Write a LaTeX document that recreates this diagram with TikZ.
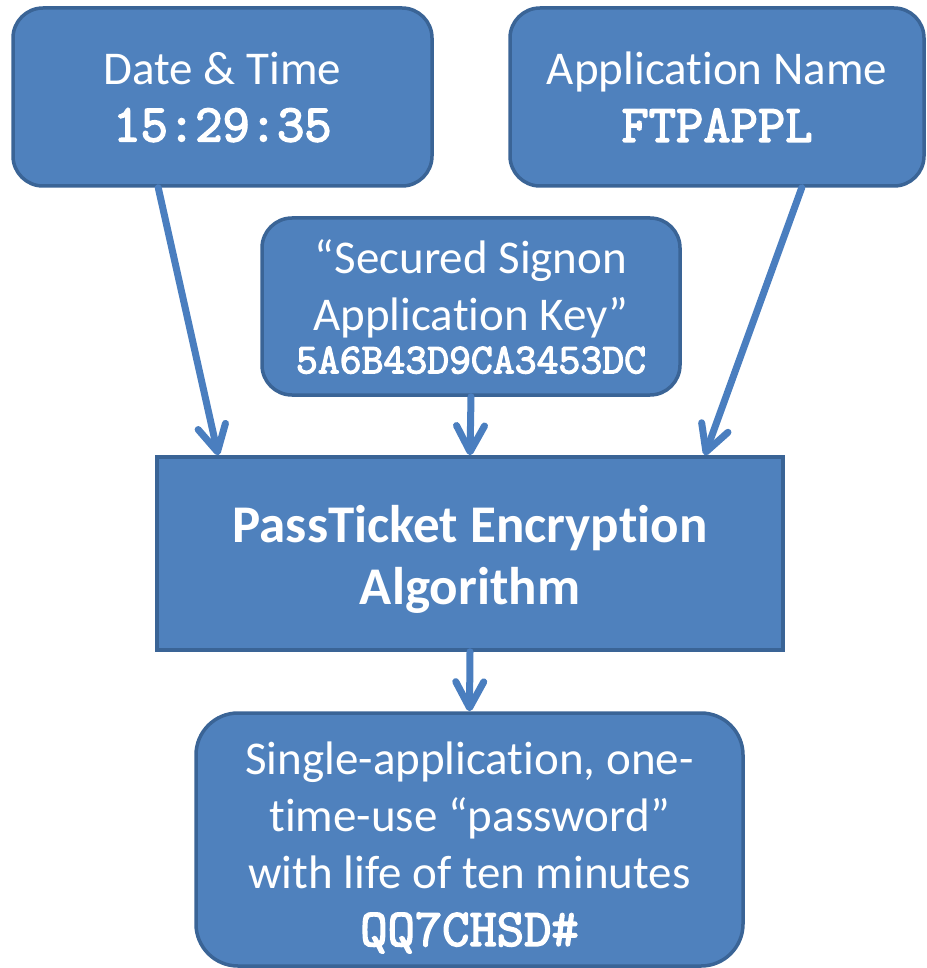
\documentclass[tikz,border=0pt]{standalone}
\usepackage{fontspec}
\setmainfont{Carlito}[Ligatures={NoCommon}]
\newfontfamily\typewriter{Latin Modern Mono}[FakeBold=3]
\usepackage{tikz}
\usetikzlibrary{arrows.meta, positioning}
\definecolor{boxfill}{HTML}{4F81BD}
\definecolor{boxline}{HTML}{3A6496}
\definecolor{arrowblue}{HTML}{4A7EBF}
\newcommand{\fillcolor}{boxfill}
\newcommand{\mono}[1]{{\typewriter #1}}

\begin{document}
\begin{tikzpicture}[
      % GLOBAL CFG
      x=1pt, y=-1pt,
      font=\fontsize{47}{57}\selectfont,
      >={Straight Barb[length=26pt,width=28pt,round]},
      % Styles
      rep/.style={% For the values
        rectangle,
        draw=boxline,
        fill=\fillcolor,
        line width=3.5pt,
        text=white,
        align=center,
        inner sep=0pt
      },
      algo/.style={% For the algorithm
        rep,
        font=\fontsize{53}{62}\selectfont\bfseries
      },
      arrowfunction/.style={% Arrows into and out of the algorithm
        line width=7pt,
        draw=arrowblue,
        line cap=round,
        ->
      }
      ]

      \useasboundingbox (0,0) rectangle (926,968);

      % Inputs
      \node [rep, rounded corners=30pt, minimum width=419pt, minimum height=178pt] (datetime) at (222.5,97)
        {Date \& Time\\{\fontsize{53}{57}\selectfont\mono{15:29:35}}};
      \node [rep, rounded corners=30pt, minimum width=414pt, minimum height=178pt] (appname) at (717,97)
        {Application Name\\{\fontsize{53}{57}\selectfont\mono{FTPAPPL}}};
      \node [rep, rounded corners=30pt, minimum width=418pt, minimum height=177pt] (appkey) at (471,306.5)
        {“Secured Signon\\Application Key”\\[-14pt]{\fontsize{42.5}{43}\selectfont\mono{5A6B43D9CA3453DC}}};

      % Algorithm
      \node [algo, minimum width=626pt, minimum height=193pt] (algorithm) at (470,553.5)
        {\rule{0pt}{48pt}PassTicket Encryption\\Algorithm};

      % Output
      \node [rep, rounded corners=42pt, minimum width=547pt, minimum height=253pt] (passticket) at (469.5,839.5)
        {\rule{0pt}{49pt}Single-application, one-\\time-use “password”\\with life of ten minutes\\{\fontsize{53}{57}\selectfont\mono{QQ7CHSD\#}}};

      \draw [arrowfunction] ([xshift=147pt]datetime.south west) -- ([xshift=63pt]algorithm.north west);
      \draw [arrowfunction] (appkey.south) -- (algorithm.north);
      \draw [arrowfunction] ([xshift=-124pt]appname.south east) -- ([xshift=-80pt]algorithm.north east);
      \draw [arrowfunction] (algorithm.south) -- (passticket.north);
    \end{tikzpicture}
\end{document}
